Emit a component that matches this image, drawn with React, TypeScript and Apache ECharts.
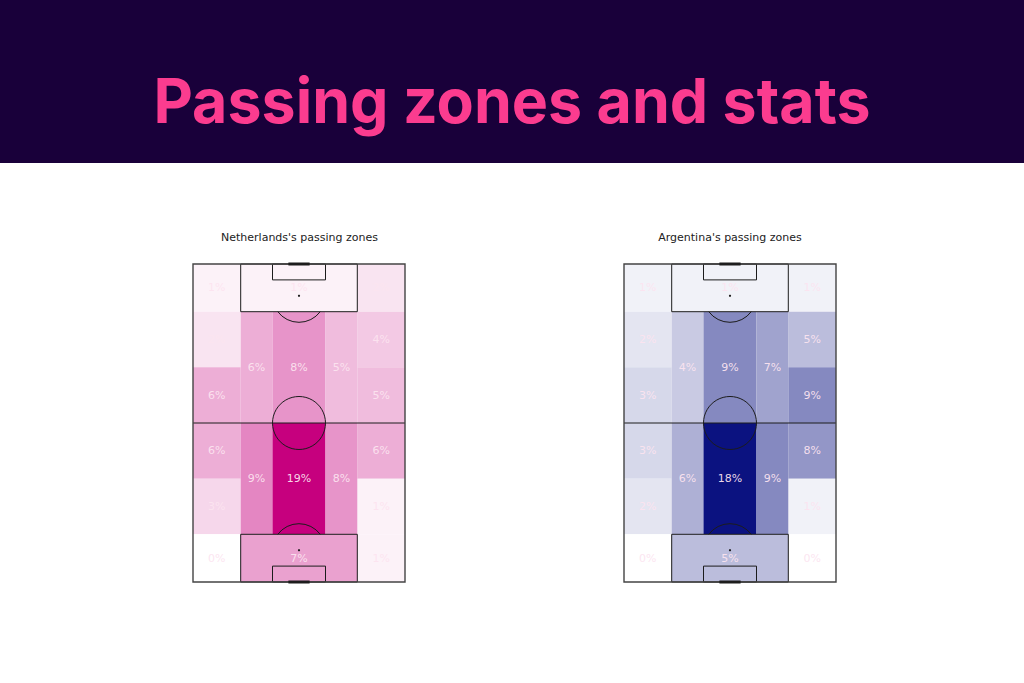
import React, { useEffect, useRef } from "react";
import * as echarts from "echarts";

// ---------- texts ----------
const PAGE_TITLE = "Passing zones and stats";
const PITCH_TITLES = ["Netherlands's passing zones", "Argentina's passing zones"];

// ---------- zone layout (pitch units: 80 wide, 120 long) ----------
const WING_LANES = [[0, 18], [62, 80]];
const MID_LANES = [[18, 30], [30, 50], [50, 62]];
const WING_ROW_EDGES = [0, 18, 39, 60, 81, 102, 120];
const MID_ROW_EDGES = [18, 60, 102];
const BOX_ROWS = [[0, 18], [102, 120]];
const BOX_LANE = [18, 62];

// ---------- values (% of passes), top to bottom ----------
const NED_LEFT_WING = [1, 2, 6, 6, 3, 0];
const NED_RIGHT_WING = [2, 4, 5, 6, 1, 1];
const NED_LEFT_HALF = [6, 9];
const NED_CENTRE = [8, 19];
const NED_RIGHT_HALF = [5, 8];
const NED_BOXES = [1, 7];

const ARG_LEFT_WING = [1, 2, 3, 3, 2, 0];
const ARG_RIGHT_WING = [1, 5, 9, 8, 1, 0];
const ARG_LEFT_HALF = [4, 6];
const ARG_CENTRE = [9, 18];
const ARG_RIGHT_HALF = [7, 9];
const ARG_BOXES = [1, 5];

const LINE = "#1c1c1c";
const LABEL_COLOR = "rgba(252,228,240,0.95)";

function buildZones(lw: number[], rw: number[], lh: number[], c: number[], rh: number[], boxes: number[]) {
  const items: number[][] = [];
  const wings = [lw, rw];
  WING_LANES.forEach((lane, li) => {
    for (let i = 0; i < WING_ROW_EDGES.length - 1; i++) {
      items.push([lane[0], lane[1], WING_ROW_EDGES[i], WING_ROW_EDGES[i + 1], wings[li][i]]);
    }
  });
  const mids = [lh, c, rh];
  MID_LANES.forEach((lane, li) => {
    for (let j = 0; j < MID_ROW_EDGES.length - 1; j++) {
      items.push([lane[0], lane[1], MID_ROW_EDGES[j], MID_ROW_EDGES[j + 1], mids[li][j]]);
    }
  });
  BOX_ROWS.forEach((row, bi) => {
    items.push([BOX_LANE[0], BOX_LANE[1], row[0], row[1], boxes[bi]]);
  });
  return items;
}

const zoneRender = (params: any, api: any) => {
  const p0 = api.coord([api.value(0), api.value(2)]);
  const p1 = api.coord([api.value(1), api.value(3)]);
  const x = Math.min(p0[0], p1[0]);
  const y = Math.min(p0[1], p1[1]);
  const w = Math.abs(p1[0] - p0[0]);
  const h = Math.abs(p1[1] - p0[1]);
  return {
    type: "group",
    children: [
      { type: "rect", shape: { x, y, width: w, height: h }, style: { fill: api.visual("color"), stroke: null } },
      {
        type: "text",
        z2: 10,
        style: {
          text: api.value(4) + "%",
          x: x + w / 2,
          y: y + h / 2,
          align: "center",
          verticalAlign: "middle",
          textAlign: "center",
          textVerticalAlign: "middle",
          fill: LABEL_COLOR,
          font: '11px "DejaVu Sans"',
        },
      },
    ],
  };
};

const pitchRender = (params: any, api: any) => {
  const c = (x: number, y: number) => api.coord([x, y]);
  const r = c(10, 0)[0] - c(0, 0)[0]; // radius of 10 pitch units
  const ln = (x1: number, y1: number, x2: number, y2: number, w = 1) => {
    const a = c(x1, y1), b = c(x2, y2);
    return { type: "line", shape: { x1: a[0], y1: a[1], x2: b[0], y2: b[1] }, style: { stroke: LINE, lineWidth: w } };
  };
  const box = (x0: number, y0: number, x1: number, y1: number, w = 1, col = LINE) => {
    const a = c(x0, y0), b = c(x1, y1);
    return { type: "rect", shape: { x: a[0], y: a[1], width: b[0] - a[0], height: b[1] - a[1] }, style: { fill: "none", stroke: col, lineWidth: w } };
  };
  const dot = (x: number, y: number) => {
    const a = c(x, y);
    return { type: "circle", shape: { cx: a[0], cy: a[1], r: 1.1 }, style: { fill: LINE } };
  };
  const t = Math.asin(0.6);
  const topSpot = c(40, 12), botSpot = c(40, 108), centre = c(40, 60);
  return {
    type: "group",
    children: [
      box(18, 0, 62, 18),
      box(30, 0, 50, 6),
      box(18, 102, 62, 120),
      box(30, 114, 50, 120),
      ln(0, 60, 80, 60),
      { type: "circle", shape: { cx: centre[0], cy: centre[1], r }, style: { fill: "none", stroke: LINE, lineWidth: 1 } },
      { type: "arc", shape: { cx: topSpot[0], cy: topSpot[1], r, startAngle: t, endAngle: Math.PI - t, clockwise: true }, style: { fill: "none", stroke: LINE, lineWidth: 1 } },
      { type: "arc", shape: { cx: botSpot[0], cy: botSpot[1], r, startAngle: Math.PI + t, endAngle: 2 * Math.PI - t, clockwise: true }, style: { fill: "none", stroke: LINE, lineWidth: 1 } },
      dot(40, 12),
      dot(40, 108),
      box(0, 0, 80, 120, 1.4, "#444444"),
      ln(36, 0, 44, 0, 3),
      ln(36, 120, 44, 120, 3),
    ],
  };
};

export default function App() {
  const ref = useRef<HTMLDivElement>(null);
  useEffect(() => {
    if (!ref.current) return;
    const chart = echarts.init(ref.current, null, { renderer: "svg" });
    const ned = buildZones(NED_LEFT_WING, NED_RIGHT_WING, NED_LEFT_HALF, NED_CENTRE, NED_RIGHT_HALF, NED_BOXES);
    const arg = buildZones(ARG_LEFT_WING, ARG_RIGHT_WING, ARG_LEFT_HALF, ARG_CENTRE, ARG_RIGHT_HALF, ARG_BOXES);
    const grids = [
      { left: 193, top: 264, width: 212, height: 318 },
      { left: 624, top: 264, width: 212, height: 318 },
    ];
    chart.setOption({
      animation: false,
      backgroundColor: "#ffffff",
      textStyle: { fontFamily: "DejaVu Sans" },
      grid: grids,
      xAxis: grids.map((_, i) => ({ gridIndex: i, type: "value", min: 0, max: 80, show: false })),
      yAxis: grids.map((_, i) => ({ gridIndex: i, type: "value", min: 0, max: 120, inverse: true, show: false })),
      visualMap: [
        { type: "continuous", show: false, seriesIndex: 0, dimension: 4, min: 0, max: 19, inRange: { color: ["#ffffff", "#c6007e"] } },
        { type: "continuous", show: false, seriesIndex: 1, dimension: 4, min: 0, max: 18, inRange: { color: ["#ffffff", "#0b1280"] } },
      ],
      graphic: [
        { type: "rect", shape: { x: 0, y: 0, width: 1024, height: 163 }, style: { fill: "#19003a" }, z: 0 },
        {
          type: "text",
          x: 512,
          y: 100,
          scaleX: 0.982,
          style: {
            text: PAGE_TITLE,
            align: "center",
            verticalAlign: "middle",
            textAlign: "center",
            textVerticalAlign: "middle",
            fill: "#fb3c8f",
            font: 'bold 62px "Inter"',
          },
        },
        {
          type: "text",
          x: 299.5,
          y: 237,
          style: { text: PITCH_TITLES[0], align: "center", verticalAlign: "middle", textAlign: "center", textVerticalAlign: "middle", fill: "#222222", font: '11px "DejaVu Sans"' },
        },
        {
          type: "text",
          x: 730,
          y: 237,
          style: { text: PITCH_TITLES[1], align: "center", verticalAlign: "middle", textAlign: "center", textVerticalAlign: "middle", fill: "#222222", font: '11px "DejaVu Sans"' },
        },
      ],
      series: [
        { type: "custom", name: "Netherlands", xAxisIndex: 0, yAxisIndex: 0, data: ned, encode: { x: [0, 1], y: [2, 3] }, renderItem: zoneRender, z: 1, silent: true },
        { type: "custom", name: "Argentina", xAxisIndex: 1, yAxisIndex: 1, data: arg, encode: { x: [0, 1], y: [2, 3] }, renderItem: zoneRender, z: 1, silent: true },
        { type: "custom", name: "pitchNED", xAxisIndex: 0, yAxisIndex: 0, data: [[40, 60]], renderItem: pitchRender, z: 3, silent: true },
        { type: "custom", name: "pitchARG", xAxisIndex: 1, yAxisIndex: 1, data: [[40, 60]], renderItem: pitchRender, z: 3, silent: true },
      ],
    });
    return () => chart.dispose();
  }, []);
  return <div ref={ref} style={{ position: "fixed", left: 0, top: 0, width: 1024, height: 683, background: "#fff" }} />;
}
